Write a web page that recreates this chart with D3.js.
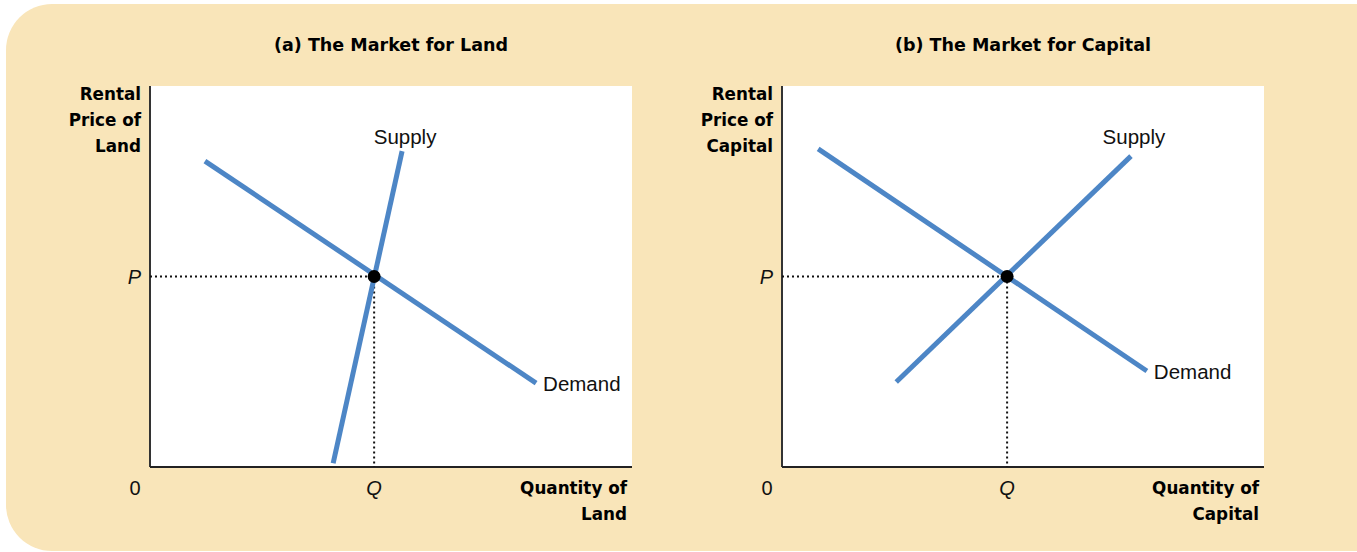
<!DOCTYPE html>
<html lang="en">
<head>
  <meta charset="UTF-8">
  <script src="https://cdn.jsdelivr.net/npm/d3@7"></script>
  <title>Markets for Land and Capital</title>
  <style>
    body { margin: 0; background: #fff; }
    text { font-family: "Liberation Sans", Arial, sans-serif; fill: #111; }
    text.bold { font-family: "DejaVu Sans", sans-serif; font-weight: bold; fill: #000; }
  </style>
</head>
<body>
<script>
// data, in abstract units (0-10 on both axes)
const titles = ["(a) The Market for Land", "(b) The Market for Capital"];
const goods = ["Land", "Capital"];
const demandA = [[1.14, 8.03], [8.01, 2.20]];
const supplyA = [[3.80, 0.10], [5.23, 8.29]];
const eqA = [4.65, 5.0];
const demandB = [[0.75, 8.35], [7.57, 2.52]];
const supplyB = [[2.37, 2.23], [7.24, 8.16]];
const eqB = [4.67, 5.0];

const W = 1357, H = 552;
const svg = d3.select("body").append("svg")
  .attr("width", W)
  .attr("height", H);

// beige rounded backdrop
svg.append("rect")
  .attr("x", 6).attr("y", 4)
  .attr("width", W - 6 + 50).attr("height", H - 5)
  .attr("rx", 46)
  .attr("fill", "#f9e5b9");

const blue = "#4d86c6";
const pw = 482, ph = 381, plotTop = 86;

function drawPanel(i, x0, demand, supply, eq) {
  const g = svg.append("g");
  const x = d3.scaleLinear().domain([0, 10]).range([x0, x0 + pw]);
  const y = d3.scaleLinear().domain([0, 10]).range([plotTop + ph, plotTop]);

  g.append("rect")
    .attr("x", x0).attr("y", plotTop)
    .attr("width", pw).attr("height", ph)
    .attr("fill", "#fff");

  // axes
  g.append("line")
    .attr("x1", x(0)).attr("y1", y(10)).attr("x2", x(0)).attr("y2", y(0))
    .attr("stroke", "#333").attr("stroke-width", 2);
  g.append("line")
    .attr("x1", x(0)).attr("y1", y(0)).attr("x2", x(10)).attr("y2", y(0))
    .attr("stroke", "#222").attr("stroke-width", 2);

  // title
  g.append("text")
    .attr("class", "bold")
    .attr("x", x(5)).attr("y", 51)
    .attr("text-anchor", "middle")
    .attr("font-size", 17.5)
    .text(titles[i]);

  // y label
  ["Rental", "Price of", goods[i]].forEach(function (t, k) {
    g.append("text")
      .attr("class", "bold")
      .attr("x", x0 - 9).attr("y", 100 + k * 26)
      .attr("text-anchor", "end")
      .attr("font-size", 16.8)
      .text(t);
  });

  // x label
  ["Quantity of", goods[i]].forEach(function (t, k) {
    g.append("text")
      .attr("class", "bold")
      .attr("x", x0 + pw - 5).attr("y", 494 + k * 26)
      .attr("text-anchor", "end")
      .attr("font-size", 16.8)
      .text(t);
  });

  // dotted guides
  g.append("line")
    .attr("x1", x(0)).attr("y1", y(eq[1])).attr("x2", x(eq[0])).attr("y2", y(eq[1]))
    .attr("stroke", "#111").attr("stroke-width", 2).attr("stroke-dasharray", "2,3");
  g.append("line")
    .attr("x1", x(eq[0])).attr("y1", y(eq[1])).attr("x2", x(eq[0])).attr("y2", y(0))
    .attr("stroke", "#111").attr("stroke-width", 2).attr("stroke-dasharray", "2,3");

  const line = d3.line().x(d => x(d[0])).y(d => y(d[1]));
  [demand, supply].forEach(function (d) {
    g.append("path")
      .attr("d", line(d))
      .attr("fill", "none")
      .attr("stroke", blue)
      .attr("stroke-width", 5);
  });

  g.append("circle")
    .attr("cx", x(eq[0])).attr("cy", y(eq[1]))
    .attr("r", 6.5)
    .attr("fill", "#000");

  // curve labels
  g.append("text")
    .attr("x", x(supply[1][0]) + 3).attr("y", y(10) + 58)
    .attr("text-anchor", "middle")
    .attr("font-size", 20.5)
    .text("Supply");
  g.append("text")
    .attr("x", x(demand[1][0]) + 7).attr("y", y(demand[1][1]) + 8)
    .attr("font-size", 20.5)
    .text("Demand");

  // tick letters
  g.append("text")
    .attr("x", x0 - 9).attr("y", y(eq[1]) + 7)
    .attr("text-anchor", "end")
    .attr("font-style", "italic")
    .attr("font-size", 20)
    .text("P");
  g.append("text")
    .attr("x", x(eq[0])).attr("y", 495)
    .attr("text-anchor", "middle")
    .attr("font-style", "italic")
    .attr("font-size", 20)
    .text("Q");
  g.append("text")
    .attr("x", x0 - 15).attr("y", 495)
    .attr("text-anchor", "middle")
    .attr("font-size", 20)
    .text("0");
}

drawPanel(0, 150, demandA, supplyA, eqA);
drawPanel(1, 782, demandB, supplyB, eqB);
</script>
</body>
</html>
